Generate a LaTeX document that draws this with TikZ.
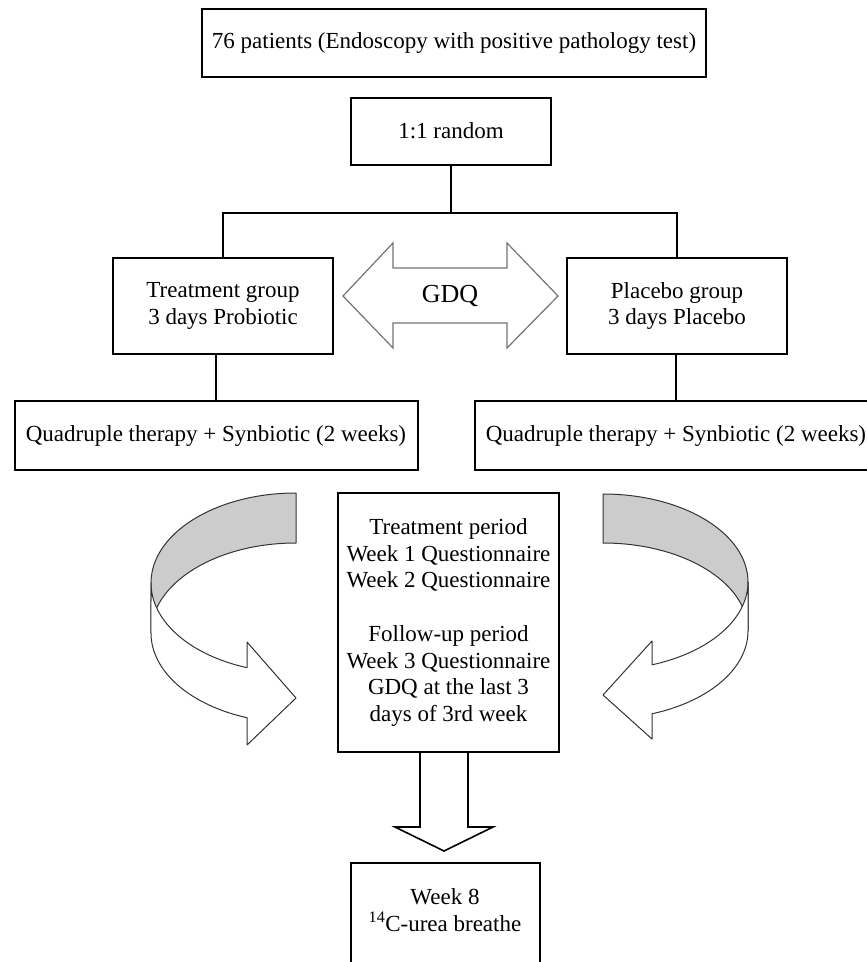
\documentclass[tikz,border=0pt]{standalone}
\usepackage{fontspec}
\setmainfont{Liberation Serif}
\usetikzlibrary{positioning}

\begin{document}
\begin{tikzpicture}[x=1pt, y=-1pt,
    main/.style={draw, line width=2pt, align=center, inner sep=0pt, font=\fontsize{23}{26.7}\selectfont},
    ln/.style={line width=1.8pt},
    band/.style={draw=black!80, line width=1pt, line join=round},
    gdq/.style={draw=black!55, line width=1.2pt, line join=miter},
    blk/.style={draw, line width=1.6pt, line join=miter}]
      \clip (0,0) rectangle (867,962);
      \node[main, minimum width=504, minimum height=68] (1) at (454,43) {76 patients (Endoscopy with positive pathology test)};
      \node[main, minimum width=200, minimum height=67] (2) at (451,131) {1:1 random};
      \node[main, minimum width=220, minimum height=96] (3) at (223,306) {Treatment group\\3 days Probiotic};
      \node[main, minimum width=220, minimum height=96] (4) at (677,306) {Placebo group\\3 days Placebo};
      \node[main, minimum width=403, minimum height=69] (5) at (216,435.5) {Quadruple therapy + Synbiotic (2 weeks)};
      \node[main, minimum width=403, minimum height=69] (6) at (676,435.5) {Quadruple therapy + Synbiotic (2 weeks)};
      \node[main, minimum width=221, minimum height=259] (7) at (448.5,622.5) {Treatment period\\Week 1 Questionnaire\\Week 2 Questionnaire\\[26.7pt]Follow-up period\\Week 3 Questionnaire\\GDQ at the last 3\\days of 3rd week};
      \node[main, minimum width=189, minimum height=140, anchor=north] (8) at (445.5,862) {};
      \node[font=\fontsize{23}{26.7}\selectfont, align=center] (9) at (445,910) {Week 8\\\textsuperscript{14}C-urea breathe};
      \coordinate (bar) at (451,213);

      \draw[ln] (2) -- (bar);
      \draw[ln] (3.north) |- (bar) -| (4.north);
      \draw[ln] (5.north) -- (5.north |- 3.south);
      \draw[ln] (6.north) -- (6.north |- 4.south);

      % GDQ between the groups
      \draw[gdq] (343,296) -- (393,243) -- (393,268) -- (507,268) -- (507,243) -- (558,296) -- (507,348) -- (507,323) -- (393,323) -- (393,348) -- cycle;
      \node[font=\fontsize{26}{30}\selectfont] (gdq) at (450,296) {GDQ};

      % curved arrows
      \draw[band, fill=gray!40] (296,493) arc[start angle=270, end angle=180, x radius=145, y radius=90] -- ++(0,50) arc[start angle=180, end angle=270, x radius=145, y radius=90] -- cycle;
      \draw[band, fill=white] (151,583) arc[start angle=180, end angle=109.75, x radius=145, y radius=90] -- (247,642) -- (296,698) -- (247,745) -- (247,717.7) arc[start angle=109.75, end angle=180, x radius=145, y radius=90] -- cycle;
      \draw[band, fill=gray!40] (603,494) arc[start angle=270, end angle=360, x radius=145, y radius=88] -- ++(0,49) arc[start angle=360, end angle=270, x radius=145, y radius=88] -- cycle;
      \draw[band, fill=white] (748,582) arc[start angle=0, end angle=70.25, x radius=145, y radius=88] -- (652,641) -- (603,695) -- (652,739) -- (652,713.8) arc[start angle=70.25, end angle=0, x radius=145, y radius=88] -- cycle;

      % down to week 8
      \draw[blk] ([xshift=-28.5pt]7.south) -- ++(0,74) -- ++(-25,0) -- ++(49,24) -- ++(49,-24) -- ++(-25,0) -- ++(0,-74);
    \end{tikzpicture}
\end{document}
